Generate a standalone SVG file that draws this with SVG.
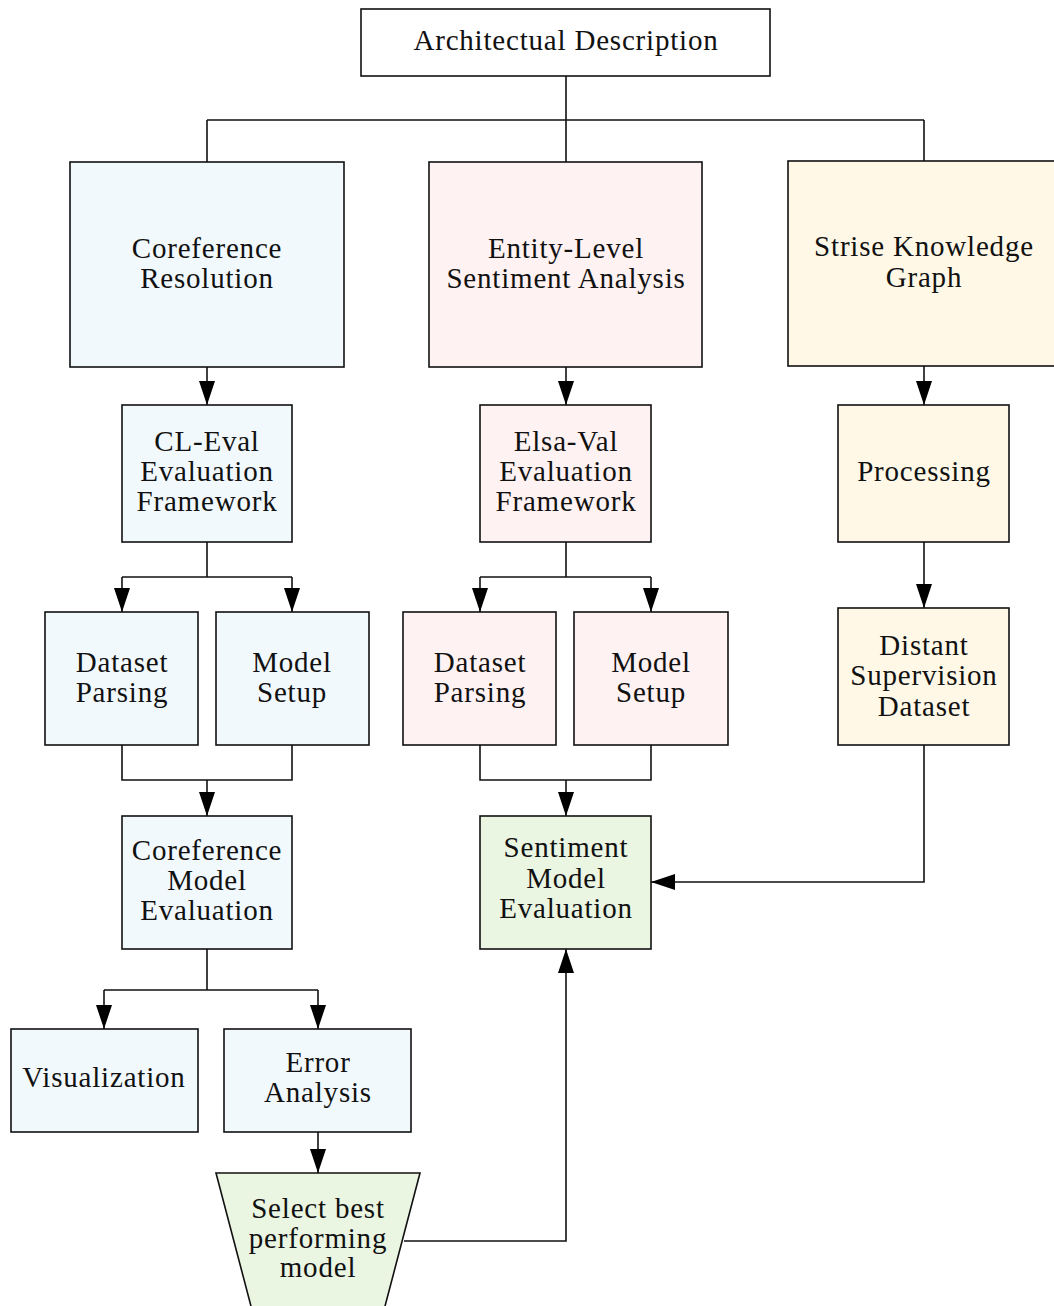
<svg xmlns="http://www.w3.org/2000/svg" width="1054" height="1306" viewBox="0 0 1054 1306">
  <style>
    .box { stroke: #111; stroke-width: 1.6; }
    .plain { fill: #ffffff; }
    .blue { fill: #f2f9fd; }
    .pink { fill: #fff2f2; }
    .yellow { fill: #fff8e7; }
    .green { fill: #eaf5e2; }
    .lbl { font-family: "Liberation Serif", "DejaVu Serif", serif; font-size: 29px; letter-spacing: 0.8px; fill: #111; text-anchor: middle; }
    .edge { fill: none; stroke: #111; stroke-width: 1.6; }
  </style>
  <defs>
    <marker id="arrow" viewBox="0 0 24 16" refX="24" refY="8" markerWidth="24" markerHeight="16" markerUnits="userSpaceOnUse" orient="auto">
      <path d="M0,0 L24,8 L0,16 z" fill="#000"/>
    </marker>
  </defs>

  <!-- connectors -->
  <g id="connectors">
    <path class="edge" d="M566,76 V120 M207,120 H924 M207,120 V162 M566,120 V162 M924,120 V161"/>
    <path class="edge" d="M207,367 V405" marker-end="url(#arrow)"/>
    <path class="edge" d="M566,367 V405" marker-end="url(#arrow)"/>
    <path class="edge" d="M924,366 V405" marker-end="url(#arrow)"/>
    <path class="edge" d="M207,542 V577 M122,577 H292"/>
    <path class="edge" d="M122,577 V612" marker-end="url(#arrow)"/>
    <path class="edge" d="M292,577 V612" marker-end="url(#arrow)"/>
    <path class="edge" d="M566,542 V577 M480,577 H651"/>
    <path class="edge" d="M480,577 V612" marker-end="url(#arrow)"/>
    <path class="edge" d="M651,577 V612" marker-end="url(#arrow)"/>
    <path class="edge" d="M924,542 V608" marker-end="url(#arrow)"/>
    <path class="edge" d="M122,745 V780 H292 V745"/>
    <path class="edge" d="M207,780 V816" marker-end="url(#arrow)"/>
    <path class="edge" d="M480,745 V780 H651 V745"/>
    <path class="edge" d="M566,780 V816" marker-end="url(#arrow)"/>
    <path class="edge" d="M924,745 V882 H651" marker-end="url(#arrow)"/>
    <path class="edge" d="M207,949 V990 M104,990 H318"/>
    <path class="edge" d="M104,990 V1029" marker-end="url(#arrow)"/>
    <path class="edge" d="M318,990 V1029" marker-end="url(#arrow)"/>
    <path class="edge" d="M318,1132 V1173" marker-end="url(#arrow)"/>
    <path class="edge" d="M404,1241 H566 V949" marker-end="url(#arrow)"/>
  </g>

  <g id="architectual-description">
    <rect class="box plain" x="361" y="9" width="409" height="67"/>
    <text class="lbl" x="566" y="50">Architectual Description</text>
  </g>

  <g id="coreference-resolution">
    <rect class="box blue" x="70" y="162" width="274" height="205"/>
    <text class="lbl" x="207" y="258">Coreference</text>
    <text class="lbl" x="207" y="288">Resolution</text>
  </g>

  <g id="entity-level-sentiment">
    <rect class="box pink" x="429" y="162" width="273" height="205"/>
    <text class="lbl" x="566" y="258">Entity-Level</text>
    <text class="lbl" x="566" y="288">Sentiment Analysis</text>
  </g>

  <g id="strise-knowledge-graph">
    <rect class="box yellow" x="788" y="161" width="272" height="205"/>
    <text class="lbl" x="924" y="256">Strise Knowledge</text>
    <text class="lbl" x="924" y="287">Graph</text>
  </g>

  <g id="cl-eval">
    <rect class="box blue" x="122" y="405" width="170" height="137"/>
    <text class="lbl" x="207" y="451">CL-Eval</text>
    <text class="lbl" x="207" y="481">Evaluation</text>
    <text class="lbl" x="207" y="511">Framework</text>
  </g>

  <g id="elsa-val">
    <rect class="box pink" x="480" y="405" width="171" height="137"/>
    <text class="lbl" x="566" y="451">Elsa-Val</text>
    <text class="lbl" x="566" y="481">Evaluation</text>
    <text class="lbl" x="566" y="511">Framework</text>
  </g>

  <g id="processing">
    <rect class="box yellow" x="838" y="405" width="171" height="137"/>
    <text class="lbl" x="924" y="481">Processing</text>
  </g>

  <g id="coref-dataset-parsing">
    <rect class="box blue" x="45" y="612" width="153" height="133"/>
    <text class="lbl" x="122" y="672">Dataset</text>
    <text class="lbl" x="122" y="702">Parsing</text>
  </g>

  <g id="coref-model-setup">
    <rect class="box blue" x="216" y="612" width="153" height="133"/>
    <text class="lbl" x="292" y="672">Model</text>
    <text class="lbl" x="292" y="702">Setup</text>
  </g>

  <g id="sent-dataset-parsing">
    <rect class="box pink" x="403" y="612" width="153" height="133"/>
    <text class="lbl" x="480" y="672">Dataset</text>
    <text class="lbl" x="480" y="702">Parsing</text>
  </g>

  <g id="sent-model-setup">
    <rect class="box pink" x="574" y="612" width="154" height="133"/>
    <text class="lbl" x="651" y="672">Model</text>
    <text class="lbl" x="651" y="702">Setup</text>
  </g>

  <g id="distant-supervision-dataset">
    <rect class="box yellow" x="838" y="608" width="171" height="137"/>
    <text class="lbl" x="924" y="655">Distant</text>
    <text class="lbl" x="924" y="685">Supervision</text>
    <text class="lbl" x="924" y="716">Dataset</text>
  </g>

  <g id="coreference-model-evaluation">
    <rect class="box blue" x="122" y="816" width="170" height="133"/>
    <text class="lbl" x="207" y="860">Coreference</text>
    <text class="lbl" x="207" y="890">Model</text>
    <text class="lbl" x="207" y="920">Evaluation</text>
  </g>

  <g id="sentiment-model-evaluation">
    <rect class="box green" x="480" y="816" width="171" height="133"/>
    <text class="lbl" x="566" y="857">Sentiment</text>
    <text class="lbl" x="566" y="888">Model</text>
    <text class="lbl" x="566" y="918">Evaluation</text>
  </g>

  <g id="visualization">
    <rect class="box blue" x="11" y="1029" width="187" height="103"/>
    <text class="lbl" x="104" y="1087">Visualization</text>
  </g>

  <g id="error-analysis">
    <rect class="box blue" x="224" y="1029" width="187" height="103"/>
    <text class="lbl" x="318" y="1072">Error</text>
    <text class="lbl" x="318" y="1102">Analysis</text>
  </g>

  <g id="select-best-model">
    <path class="box green" d="M216,1173 H420 L384,1310 H252 Z"/>
    <text class="lbl" x="318" y="1218">Select best</text>
    <text class="lbl" x="318" y="1248">performing</text>
    <text class="lbl" x="318" y="1277">model</text>
  </g>
</svg>
